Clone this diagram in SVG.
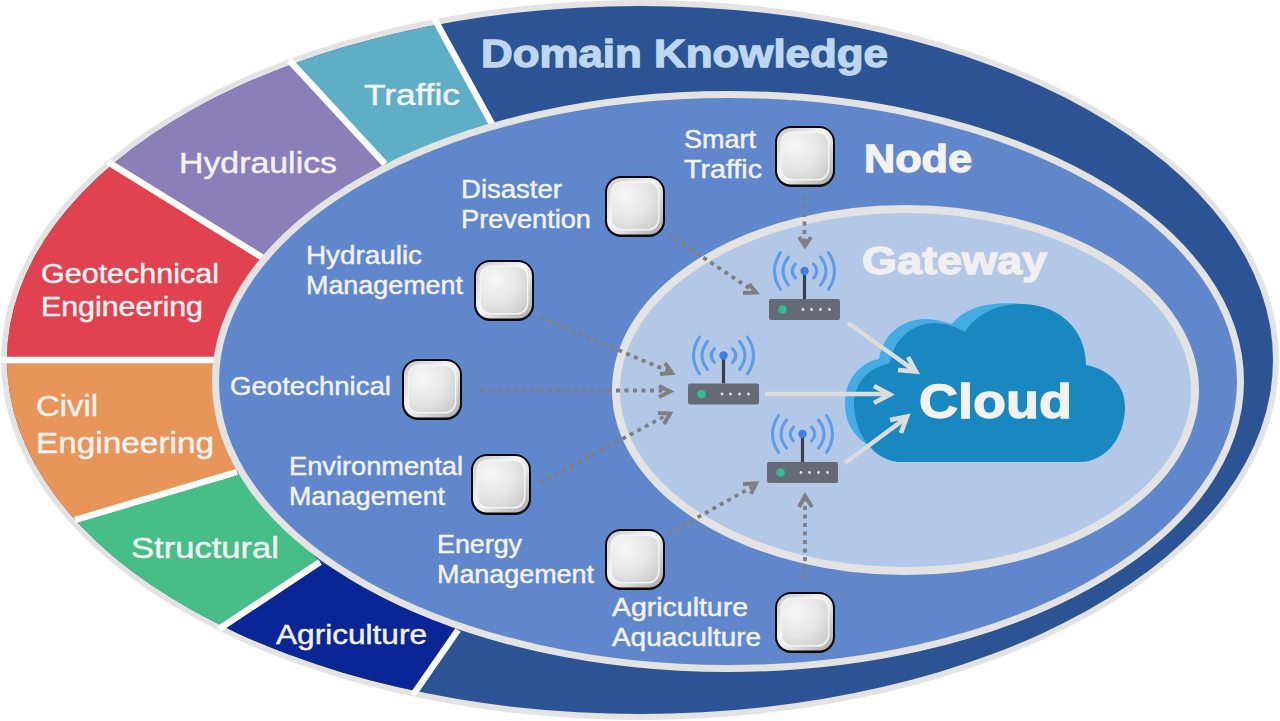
<svg xmlns="http://www.w3.org/2000/svg" width="1280" height="721" viewBox="0 0 1280 721">
<style>
text{font-family:"Liberation Sans",Arial,sans-serif;fill:#f2f2f2;stroke:#f2f2f2}
.lab{font-size:25px;stroke-width:.45}
.seg{font-size:27px;stroke-width:.45}
.big{font-weight:bold;font-size:38px;stroke-width:1.3}
.sep{stroke:#fff;stroke-width:6.5;fill:none}
.dot{stroke:#7f7f7f;stroke-width:3.8;stroke-dasharray:4 4.5;fill:none}
.dh{stroke:#7f7f7f;stroke-width:4;fill:none}
.sol{stroke:#dcdcdc;stroke-width:4.6;fill:none}
.wave{stroke:#5b9be8;stroke-width:3;fill:none;stroke-linecap:round}
</style>
<defs>
<clipPath id="outer"><ellipse cx="640" cy="360" rx="633" ry="354"/></clipPath>
<clipPath id="outer-edge"><ellipse cx="640" cy="360" rx="639" ry="360"/></clipPath>
<radialGradient id="shine" cx=".3" cy=".28" r=".85"><stop offset="0" stop-color="#f7f7f7"/><stop offset=".6" stop-color="#e6e6e6"/><stop offset="1" stop-color="#cfcfcf"/></radialGradient>
<linearGradient id="rim" x1="0" y1="0" x2="1" y2="1"><stop offset="0" stop-color="#c9c9c9"/><stop offset=".45" stop-color="#f6f6f6"/><stop offset="1" stop-color="#a9a9a9"/></linearGradient>
<g id="sensor">
<rect x="0" y="0" width="60" height="61" rx="16" fill="#0a0a0a"/>
<rect x="2" y="2" width="56" height="56.500" rx="14" fill="url(#rim)"/>
<rect x="5.500" y="5.500" width="49" height="49" rx="11.500" fill="#f4f4f4"/>
<rect x="7" y="7" width="46" height="46" rx="10" fill="url(#shine)"/>
</g>
<g id="router">
<path class="wave" d="M-9-7Q-15.600 0-9 7M9-7Q15.600 0 9 7M-16-14Q-27 0-16 14M16-14Q27 0 16 14M-24-18.500Q-36 0-24 18.500M24-18.500Q36 0 24 18.500"/>
<path d="M0 0V28" stroke="#36404f" stroke-width="3.2"/>
<circle r="4.200" fill="#3f7fdc"/>
<rect x="-35.500" y="28" width="71" height="21" rx="2" fill="#646b77"/>
<circle cx="-22" cy="38.500" r="4.300" fill="#2fbf93"/>
<g fill="#e0e3e8"><circle cx="-1.500" cy="38.500" r="1.400"/><circle cx="7" cy="38.500" r="1.400"/><circle cx="16" cy="38.500" r="1.400"/><circle cx="25" cy="38.500" r="1.400"/></g>
</g>
</defs>

<!-- outer ring -->
<ellipse cx="640" cy="360" rx="639" ry="360" fill="#e3e3e3"/>
<g id="domain-ring">
<g clip-path="url(#outer)">
<rect width="1280" height="721" fill="#2c5394"/>
<polygon fill="#5eaec6" points="434,18 492,124 385,164 289,60 330,0 425,0"/>
<polygon fill="#8a7fb8" points="289,60 385,164 263,258 108,162 150,40"/>
<polygon fill="#e04250" points="108,162 263,258 213,360 0,360 0,140"/>
<polygon fill="#e8955a" points="0,360 213,360 237,472 75,520 0,520"/>
<polygon fill="#47bd88" points="75,520 237,472 320,562 219,629 60,640"/>
<polygon fill="#0a2596" points="219,629 320,562 458,630 413,695 300,721 200,721"/>
</g>
<path class="sep" clip-path="url(#outer-edge)" d="M434 18 492 124M289 60 385 164M108 162 263 258M0 360H215M75 520 237 472M219 629 320 562M413 695 458 630"/>
</g>
<text class="big" x="481" y="67" textLength="407" lengthAdjust="spacingAndGlyphs" style="fill:#bdd7f0;stroke:#bdd7f0">Domain Knowledge</text>
<g id="domains">
<text class="seg" x="364" y="105" textLength="96" lengthAdjust="spacingAndGlyphs" style="font-size:29px">Traffic</text>
<text class="seg" x="179" y="173" textLength="158" lengthAdjust="spacingAndGlyphs" style="font-size:29px">Hydraulics</text>
<text class="seg" x="41" y="283" textLength="178" lengthAdjust="spacingAndGlyphs">Geotechnical</text>
<text class="seg" x="41" y="316" textLength="162" lengthAdjust="spacingAndGlyphs">Engineering</text>
<text class="seg" x="36" y="416" textLength="62" lengthAdjust="spacingAndGlyphs" style="font-size:29px">Civil</text>
<text class="seg" x="36" y="453" textLength="178" lengthAdjust="spacingAndGlyphs" style="font-size:29px">Engineering</text>
<text class="seg" x="131" y="558" textLength="148" lengthAdjust="spacingAndGlyphs" style="font-size:29px">Structural</text>
<text class="seg" x="276" y="644" textLength="151" lengthAdjust="spacingAndGlyphs">Agriculture</text>
</g>

<!-- node ring and gateway area -->
<ellipse cx="728" cy="381.500" rx="512.500" ry="287" fill="#6087cc" stroke="#e3e3e3" stroke-width="7"/>
<text class="big" x="864" y="172" textLength="108" lengthAdjust="spacingAndGlyphs">Node</text>
<ellipse cx="905.500" cy="390" rx="289.500" ry="181" fill="#b3c7e6" stroke="#e3e3e3" stroke-width="8"/>
<text class="big" x="862" y="274" textLength="185" lengthAdjust="spacingAndGlyphs" style="fill:#f0f0f0;stroke:#f0f0f0">Gateway</text>

<!-- cloud -->
<g id="cloud">
<path fill="#45ace3" d="M875 450C855 438 845 425 845 403C845 380 860 362 879 359C883 335 900 320 925 319C935 319 945 322 952 324C965 307 990 301 1023 304L1000 400Z"/>
<path fill="#1a88c0" d="M898 462C875 460 854 435 854 403C854 385 868 367 890 363C893 340 912 323 935 323C945 323 957 327 965 332C975 315 998 303 1023 304C1060 305 1086 330 1086 365C1110 370 1125 385 1125 407C1125 438 1105 462 1080 462Z"/>
<text x="919" y="418" textLength="153" lengthAdjust="spacingAndGlyphs" style="font-size:48px;font-weight:bold;stroke-width:1.3">Cloud</text>
</g>

<!-- links -->
<g id="connectors">
<path class="dot" d="M804.500 196V242"/><path class="dh" d="M799 237 805 246 811 237"/>
<path class="dot" d="M668 234 752 290"/><path class="dh" d="M749 284 756 292.500 743 293"/>
<path class="dot" d="M540 317 668 371"/><path class="dh" d="M665 363 672 373 660 374"/>
<path class="dot" d="M480 390.500H667"/><path class="dh" d="M659 386 670 391.500 659 397"/>
<path class="dot" d="M540 483 667 415"/><path class="dh" d="M658 413 670 413.500 664 424"/>
<path class="dot" d="M668 534 752 487"/><path class="dh" d="M743 484 756 483.500 751 494"/>
<path class="dot" d="M805 578V500"/><path class="dh" d="M799 507 805 496 812 507"/>
<path class="sol" d="M848 323 915 371M908 357 916 371.500 898 370"/>
<path class="sol" d="M765 394H889M874 386 890 394.500 874 403"/>
<path class="sol" d="M845 463 906 418M890 420 907 416.500 901 433"/>
</g>

<g id="gateway-a"><use href="#router" x="804.500" y="271"/></g>
<g id="gateway-b"><use href="#router" x="723.500" y="355.500"/></g>
<g id="gateway-c"><use href="#router" x="802.500" y="434"/></g>

<g id="node-smart-traffic"><use href="#sensor" x="775" y="126"/><text class="lab" x="684" y="148" textLength="72" lengthAdjust="spacingAndGlyphs">Smart</text><text class="lab" x="684" y="178" textLength="78" lengthAdjust="spacingAndGlyphs">Traffic</text></g>
<g id="node-disaster"><use href="#sensor" x="605" y="176"/><text class="lab" x="461" y="198" textLength="101" lengthAdjust="spacingAndGlyphs">Disaster</text><text class="lab" x="461" y="228" textLength="130" lengthAdjust="spacingAndGlyphs">Prevention</text></g>
<g id="node-hydraulic"><use href="#sensor" x="474" y="260"/><text class="lab" x="306" y="264" textLength="116" lengthAdjust="spacingAndGlyphs">Hydraulic</text><text class="lab" x="306" y="294" textLength="157" lengthAdjust="spacingAndGlyphs">Management</text></g>
<g id="node-geotechnical"><use href="#sensor" x="402" y="359"/><text class="lab" x="230" y="395" textLength="161" lengthAdjust="spacingAndGlyphs">Geotechnical</text></g>
<g id="node-environmental"><use href="#sensor" x="471" y="454"/><text class="lab" x="289" y="475" textLength="174" lengthAdjust="spacingAndGlyphs">Environmental</text><text class="lab" x="289" y="505" textLength="156" lengthAdjust="spacingAndGlyphs">Management</text></g>
<g id="node-energy"><use href="#sensor" x="605" y="529"/><text class="lab" x="437" y="553" textLength="85" lengthAdjust="spacingAndGlyphs">Energy</text><text class="lab" x="437" y="583" textLength="157" lengthAdjust="spacingAndGlyphs">Management</text></g>
<g id="node-agriculture"><use href="#sensor" x="775" y="592"/><text class="lab" x="612" y="616" textLength="136" lengthAdjust="spacingAndGlyphs">Agriculture</text><text class="lab" x="612" y="646" textLength="149" lengthAdjust="spacingAndGlyphs">Aquaculture</text></g>
</svg>
